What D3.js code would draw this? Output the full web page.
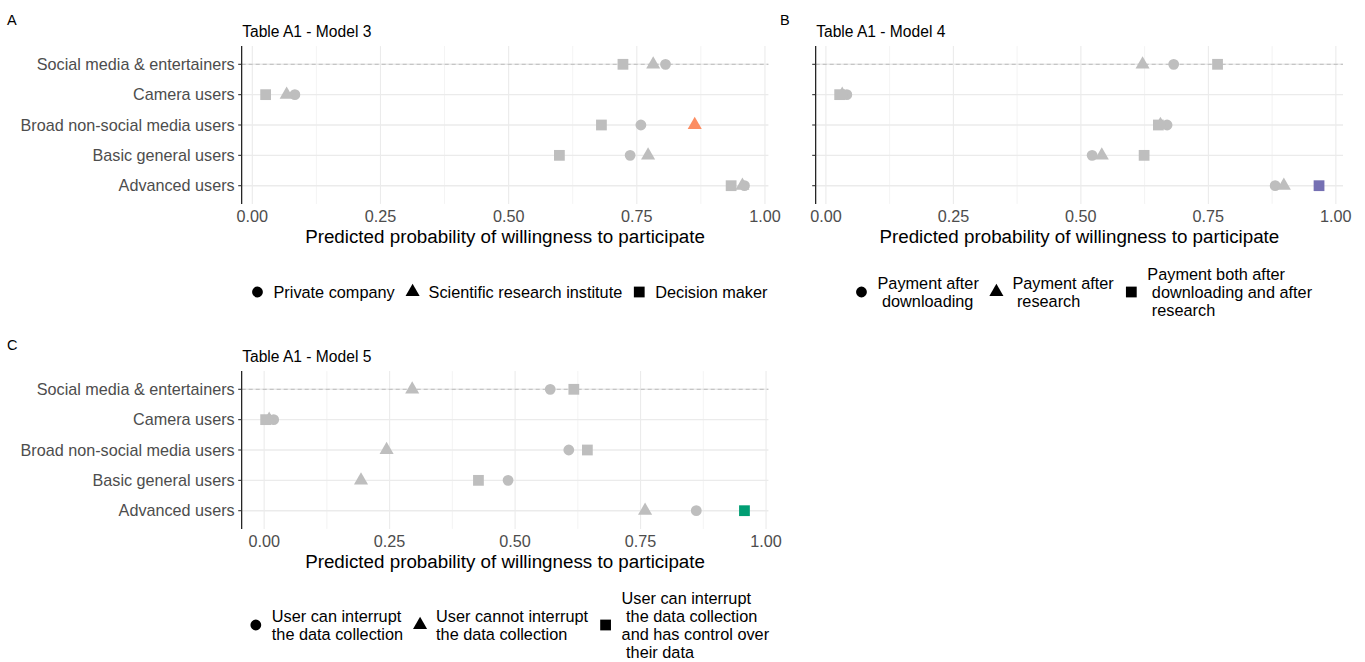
<!DOCTYPE html>
<html>
<head>
<meta charset="utf-8">
<script src="https://cdn.jsdelivr.net/npm/d3@7"></script>
<style>
  body { margin: 0; background: #fff; }
  svg { font-family: "Liberation Sans", Arial, sans-serif; }
</style>
</head>
<body>
<svg id="chart" width="1365" height="662"></svg>
<script>
// rows, top to bottom
const categories = [
  "Social media & entertainers",
  "Camera users",
  "Broad non-social media users",
  "Basic general users",
  "Advanced users"
];

// Table A1 - Model 3 (circle / triangle / square)
const m3Private    = [0.806, 0.083, 0.758, 0.737, 0.960];
const m3Scientific = [0.782, 0.067, 0.863, 0.772, 0.956];
const m3Decision   = [0.723, 0.026, 0.681, 0.599, 0.934];

// Table A1 - Model 4
const m4AfterDownload = [0.682, 0.041, 0.669, 0.522, 0.881];
const m4AfterResearch = [0.621, 0.032, 0.656, 0.541, 0.898];
const m4Both          = [0.768, 0.027, 0.652, 0.624, 0.967];

// Table A1 - Model 5
const m5CanInterrupt    = [0.570, 0.019, 0.607, 0.486, 0.861];
const m5CannotInterrupt = [0.295, 0.010, 0.244, 0.193, 0.759];
const m5Control         = [0.617, 0.003, 0.644, 0.427, 0.957];

const xTicks = [0, 0.25, 0.5, 0.75, 1];
const xMinor = [0.125, 0.375, 0.625, 0.875];

// legend labels, one array of lines per key
const legend3 = [["Private company"], ["Scientific research institute"], ["Decision maker"]];
const legend4 = [["Payment after", " downloading"], ["Payment after", " research"],
                 ["Payment both after", " downloading and after", " research"]];
const legend5 = [["User can interrupt", "the data collection"], ["User cannot interrupt", "the data collection"],
                 ["User can interrupt", " the data collection", "and has control over", " their data"]];

const GREY = "#BEBEBE";
const shapes = [d3.symbolCircle, d3.symbolTriangle, d3.symbolSquare];
const shapeSize = [92, 86, 116];

const panels = [
  { letter: "A", lx: 7, ly: 25, title: "Table A1 - Model 3", series: [m3Private, m3Scientific, m3Decision],
    hl: { series: 1, row: 2, color: "#FC8D62" }, legend: legend3,
    left: 241.7, right: 768.4, top: 46.1, bottom: 203.9, yLabels: true, legendY: 292 },
  { letter: "B", lx: 780, ly: 25, title: "Table A1 - Model 4", series: [m4AfterDownload, m4AfterResearch, m4Both],
    hl: { series: 2, row: 4, color: "#7570B3" }, legend: legend4,
    left: 815.7, right: 1343, top: 46.1, bottom: 203.9, yLabels: false, legendY: 292 },
  { letter: "C", lx: 7, ly: 350, title: "Table A1 - Model 5", series: [m5CanInterrupt, m5CannotInterrupt, m5Control],
    hl: { series: 2, row: 4, color: "#009E73" }, legend: legend5,
    left: 241.7, right: 768.4, top: 371.1, bottom: 528.9, yLabels: true, legendY: 625 }
];

const svg = d3.select("#chart");

panels.forEach(p => {
  const all = p.series.flat();
  const [lo, hi] = d3.extent(all);
  const pad = (hi - lo) * 0.05;
  const x = d3.scaleLinear().domain([lo - pad, hi + pad]).range([p.left, p.right]);
  const y = d3.scalePoint().domain(categories).range([p.top, p.bottom]).padding(0.6);

  const g = svg.append("g");

  svg.append("text").attr("x", p.lx).attr("y", p.ly)
    .style("font-size", "14.5px").attr("fill", "#000").text(p.letter);

  g.append("text").attr("x", p.left + 0.5).attr("y", p.top - 9)
    .style("font-size", "15.6px").attr("fill", "#000").text(p.title);

  // grid
  g.selectAll(".minor").data(xMinor).join("line")
    .attr("x1", d => x(d)).attr("x2", d => x(d))
    .attr("y1", p.top).attr("y2", p.bottom)
    .attr("stroke", "#EBEBEB").attr("stroke-width", 0.6);
  g.selectAll(".major").data(xTicks).join("line")
    .attr("x1", d => x(d)).attr("x2", d => x(d))
    .attr("y1", p.top).attr("y2", p.bottom)
    .attr("stroke", "#EBEBEB").attr("stroke-width", 1.1);
  g.selectAll(".hgrid").data(categories).join("line")
    .attr("x1", p.left).attr("x2", p.right)
    .attr("y1", d => y(d)).attr("y2", d => y(d))
    .attr("stroke", "#EBEBEB").attr("stroke-width", 1.4);

  // reference line on first row
  g.append("line")
    .attr("x1", p.left).attr("x2", p.right)
    .attr("y1", y(categories[0])).attr("y2", y(categories[0]))
    .attr("stroke", "#B5B5B5").attr("stroke-width", 0.9)
    .attr("stroke-dasharray", "4,3");

  // y axis
  g.append("line").attr("x1", p.left).attr("x2", p.left)
    .attr("y1", p.top).attr("y2", p.bottom)
    .attr("stroke", "#000").attr("stroke-width", 1.1);
  g.selectAll(".ytick").data(categories).join("line")
    .attr("x1", p.left - 3.5).attr("x2", p.left)
    .attr("y1", d => y(d)).attr("y2", d => y(d))
    .attr("stroke", "#333").attr("stroke-width", 1.1);
  if (p.yLabels) {
    g.selectAll(".ylab").data(categories).join("text")
      .attr("x", p.left - 7).attr("y", d => y(d)).attr("dy", "0.35em")
      .attr("text-anchor", "end").style("font-size", "16.2px").attr("fill", "#4D4D4D")
      .text(d => d);
  }

  // x axis labels
  g.selectAll(".xlab").data(xTicks).join("text")
    .attr("x", d => x(d)).attr("y", p.bottom + 17.8)
    .attr("text-anchor", "middle").style("font-size", "16.2px").attr("fill", "#4D4D4D")
    .text(d3.format(".2f"));
  g.append("text").attr("x", (p.left + p.right) / 2).attr("y", p.bottom + 39)
    .attr("text-anchor", "middle").style("font-size", "18.8px").attr("fill", "#000")
    .text("Predicted probability of willingness to participate");

  // points
  p.series.forEach((vals, si) => {
    g.selectAll(null).data(vals.map((v, ri) => ({ v, ri }))).join("path")
      .attr("d", d3.symbol().type(shapes[si]).size(shapeSize[si]))
      .attr("transform", d => `translate(${x(d.v)},${y(categories[d.ri])})`)
      .attr("fill", d => (si === p.hl.series && d.ri === p.hl.row) ? p.hl.color : GREY);
  });

  // legend
  const lg = svg.append("g");
  const lineH = 18;
  let cx = 0;
  p.legend.forEach((lines, i) => {
    lg.append("path")
      .attr("d", d3.symbol().type(shapes[i]).size(shapeSize[i])())
      .attr("transform", `translate(${cx},${p.legendY})`)
      .attr("fill", "#000");
    const t = lg.append("text")
      .attr("x", cx + 16).attr("y", p.legendY - (lines.length - 1) * lineH / 2)
      .attr("xml:space", "preserve").style("white-space", "pre")
      .style("font-size", "16.3px").attr("fill", "#000");
    lines.forEach((ln, li) => {
      t.append("tspan").attr("x", cx + 16).attr("dy", li === 0 ? "0.35em" : lineH).text(ln);
    });
    const w = t.node().getBBox().width;
    cx = cx + 16 + w + 17;
  });
  const bb = lg.node().getBBox();
  const shift = (p.left + p.right) / 2 + 5 - (bb.x + bb.width / 2);
  lg.attr("transform", `translate(${shift},0)`);
});
</script>
</body>
</html>
